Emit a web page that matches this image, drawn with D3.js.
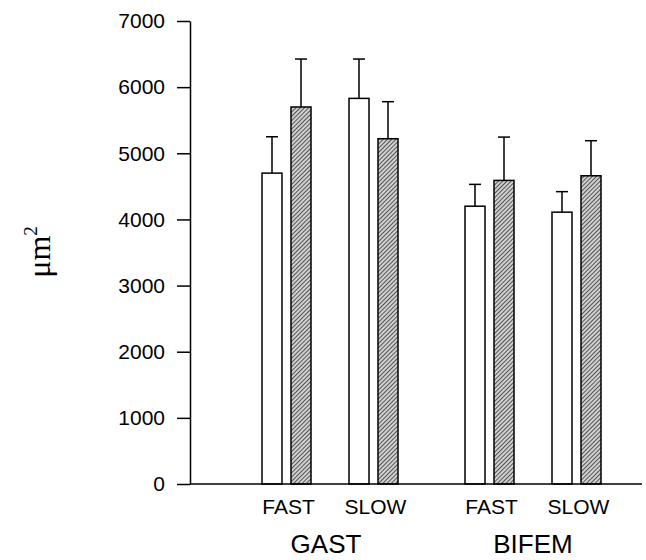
<!DOCTYPE html>
<html>
<head>
<meta charset="utf-8">
<script src="https://cdn.jsdelivr.net/npm/d3@7"></script>
<style>
  body { margin: 0; background: #fff; }
  svg { display: block; }
  .tick text { font-family: Arial, "Liberation Sans", sans-serif; font-size: 21px; fill: #000; }
</style>
</head>
<body>
<svg id="chart" width="646" height="560"></svg>
<script>
// muscles, fibre types and the two series (open / hatched bars)
const MUSCLES = ["GAST", "BIFEM"];
const FIBERS = ["FAST", "SLOW"];
const SERIES = ["open", "hatched"];
const Y_TICKS = [0, 1000, 2000, 3000, 4000, 5000, 6000, 7000];

// mean area, order: GAST FAST, GAST SLOW, BIFEM FAST, BIFEM SLOW
const OPEN_MEANS = [4700, 5830, 4200, 4110];
const OPEN_SD = [550, 595, 330, 310];
const HATCHED_MEANS = [5700, 5220, 4590, 4660];
const HATCHED_SD = [725, 560, 655, 530];

const svg = d3.select('#chart');

const defs = svg.append('defs');
const pat = defs.append('pattern')
    .attr('id', 'hatch')
    .attr('patternUnits', 'userSpaceOnUse')
    .attr('width', 3)
    .attr('height', 3)
    .attr('patternTransform', 'rotate(45)');
pat.append('rect').attr('width', 3).attr('height', 3).attr('fill', '#d0d0d0');
pat.append('line')
    .attr('x1', 0).attr('y1', 0).attr('x2', 0).attr('y2', 3)
    .attr('stroke', '#111').attr('stroke-width', 1.3);

const y = d3.scaleLinear().domain([0, 7000]).range([484, 21]);

const xMuscle = d3.scaleBand().domain(MUSCLES).range([228.5, 634.5]);
const xFiber = d3.scalePoint().domain(FIBERS).range([58, 145]);
const xSeries = d3.scaleBand().domain(SERIES).range([-24.5, 24.5])
    .paddingInner(9 / 29).paddingOuter(0);

// flatten into one record per bar
const bars = [];
MUSCLES.forEach((m, mi) => {
    FIBERS.forEach((f, fi) => {
        const k = mi * 2 + fi;
        bars.push({muscle: m, fiber: f, series: 'open', mean: OPEN_MEANS[k], sd: OPEN_SD[k]});
        bars.push({muscle: m, fiber: f, series: 'hatched', mean: HATCHED_MEANS[k], sd: HATCHED_SD[k]});
    });
});

const pairX = d => xMuscle(d.muscle) + xFiber(d.fiber);
const barX = d => pairX(d) + xSeries(d.series);
const barMid = d => barX(d) + xSeries.bandwidth() / 2;

// error bars (upper only)
svg.selectAll('.err')
    .data(bars)
    .enter()
    .append('line')
    .attr('class', 'err')
    .attr('x1', barMid).attr('x2', barMid)
    .attr('y1', d => y(d.mean))
    .attr('y2', d => y(d.mean + d.sd))
    .attr('stroke', '#000').attr('stroke-width', 1.5);

svg.selectAll('.cap')
    .data(bars)
    .enter()
    .append('line')
    .attr('class', 'cap')
    .attr('x1', d => barMid(d) - 6).attr('x2', d => barMid(d) + 6)
    .attr('y1', d => y(d.mean + d.sd))
    .attr('y2', d => y(d.mean + d.sd))
    .attr('stroke', '#000').attr('stroke-width', 1.5);

svg.selectAll('.bar')
    .data(bars)
    .enter()
    .append('rect')
    .attr('class', 'bar')
    .attr('x', barX)
    .attr('y', d => y(d.mean))
    .attr('width', xSeries.bandwidth())
    .attr('height', d => y(0) - y(d.mean))
    .attr('fill', d => d.series === 'open' ? '#fff' : 'url(#hatch)')
    .attr('stroke', '#000')
    .attr('stroke-width', 1.5);

// y axis
const yAxis = d3.axisLeft(y)
    .tickValues(Y_TICKS)
    .tickSize(13)
    .tickSizeOuter(0)
    .tickPadding(12)
    .tickFormat(d3.format('d'));

const gy = svg.append('g')
    .attr('transform', 'translate(190,0)')
    .call(yAxis);
gy.selectAll('path, line').attr('stroke', '#000').attr('stroke-width', 1.5);

// baseline
svg.append('line')
    .attr('x1', 190).attr('x2', 642)
    .attr('y1', y(0)).attr('y2', y(0))
    .attr('stroke', '#000').attr('stroke-width', 1.5);

// fibre labels
const pairs = [];
MUSCLES.forEach(m => FIBERS.forEach(f => pairs.push({muscle: m, fiber: f})));
svg.selectAll('.fiber-label')
    .data(pairs)
    .enter()
    .append('text')
    .attr('class', 'fiber-label')
    .attr('x', d => pairX(d) + 2)
    .attr('y', 514)
    .attr('text-anchor', 'middle')
    .style('font-family', 'Arial, "Liberation Sans", sans-serif')
    .style('font-size', '21px')
    .text(d => d.fiber);

svg.selectAll('.muscle-label')
    .data(MUSCLES)
    .enter()
    .append('text')
    .attr('class', 'muscle-label')
    .attr('x', d => xMuscle(d) + xMuscle.bandwidth() / 2 - (d === 'GAST' ? 4 : 0))
    .attr('y', 553)
    .attr('text-anchor', 'middle')
    .style('font-family', 'Arial, "Liberation Sans", sans-serif')
    .style('font-size', '26px')
    .text(d => d);

// y label
const yl = svg.append('text')
    .attr('transform', 'translate(50,252) rotate(-90)')
    .attr('text-anchor', 'middle')
    .style('font-family', '"Liberation Serif", "DejaVu Serif", serif')
    .style('font-size', '32px');
yl.append('tspan').text('\u03bcm');
yl.append('tspan').attr('dy', -13).style('font-size', '19px').text('2');
</script>
</body>
</html>
